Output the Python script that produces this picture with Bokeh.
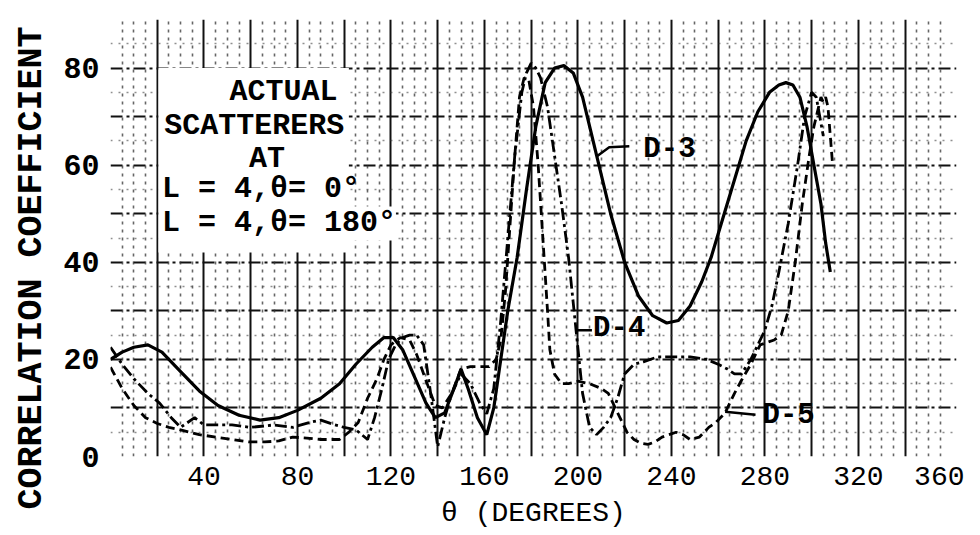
from bokeh.plotting import figure
from bokeh.models import (Range1d, FixedTicker, Grid, BoxAnnotation, Label, Title)
from bokeh.embed import file_html
from bokeh.resources import INLINE

# ---------------- data ----------------
x_ticks = [40, 80, 120, 160, 200, 240, 280, 320, 360]
y_ticks = [0, 20, 40, 60, 80]

d3_x = [0, 5, 10, 16, 22, 30, 38, 46, 55, 64, 72, 80, 90, 98, 105, 112, 117, 121,
        125, 130, 135, 139, 143, 147, 150, 153, 157, 161, 164, 167, 170, 174, 178,
        182, 186, 190, 194, 198, 202, 208, 214, 220, 226, 232, 238, 243, 248, 253,
        257, 262, 267, 272, 277, 282, 286, 289, 292, 295, 298, 301, 304, 306, 308]
d3_y = [20, 21.5, 22.5, 23, 21.5, 17.5, 13.5, 10.5, 8.5, 7.5, 8, 9.5, 12, 15, 19,
        22.5, 24.5, 24.5, 22, 16.5, 11, 8, 9, 14, 18, 14, 8, 4.5, 10, 20, 30, 41,
        55, 68, 77, 80, 80.5, 79, 74, 62, 50, 40, 33, 29, 27.5, 28, 31, 36, 41, 49,
        57, 65, 71, 75, 76.5, 77, 76.5, 74, 68, 60, 52, 44, 38]

d4_x = [0, 5, 10, 16, 21, 26, 30, 33, 36, 40, 46, 52, 60, 70, 78, 85, 90, 96, 100,
        105, 110, 113, 116, 119, 122, 125, 128, 131, 134, 137, 140, 143, 146, 150,
        154, 158, 161, 164, 167, 170, 173, 176, 178, 180, 182, 184, 187, 190, 193,
        196, 199, 202, 205, 208, 211, 214, 217, 220, 224, 228, 234, 240, 248, 255,
        260, 264, 267, 270, 274, 277, 280, 283, 286, 290, 294, 297, 300, 302, 305]
d4_y = [22.5, 19, 16, 13, 11, 8, 6, 7, 8, 6.5, 6.5, 6.5, 6, 6.5, 6, 7, 7.5, 6.5, 6,
        5.5, 3.5, 8, 13.7, 20, 23, 24.5, 25, 25, 23, 13, 2, 8, 13, 17, 15, 11, 8.8,
        14, 28, 45, 62, 75, 79, 81, 80, 78, 72, 62, 52, 41, 27, 13, 6, 4.5, 6, 8, 12,
        17, 19, 19.5, 20.5, 20.5, 20.5, 20, 19, 18, 17, 17, 20, 23, 26, 31, 38, 48,
        60, 70, 75, 74, 66]

d5_x = [0, 5, 10, 15, 20, 25, 30, 38, 45, 52, 59, 66, 72, 78, 84, 90, 98, 102, 106,
        110, 114, 117, 120, 124, 128, 131, 134, 137, 139, 142, 146, 150, 154, 158,
        162, 165, 167, 169, 171, 173, 175, 177, 179, 181, 183, 185, 187, 188, 190,
        193, 196, 200, 205, 210, 213, 217, 221, 224, 227, 230, 233, 236, 239, 242,
        245, 248, 252, 256, 259, 263, 267, 270, 274, 278, 281, 284, 287, 290, 293,
        296, 299, 301, 303, 304, 305, 306, 307, 308, 309]
d5_y = [18.4, 14, 10.5, 8, 6.8, 6, 5.5, 4.5, 4, 3.5, 3, 3, 3.2, 4, 3.8, 3.5, 3.5, 5,
        7, 12, 16, 20, 23, 24.5, 24, 21, 17, 13, 10.5, 10, 13, 18, 18.5, 18.5, 18.5,
        20, 24, 34, 48, 62, 74, 78, 77.5, 72, 60, 45, 30, 22, 17, 15, 15, 15.5, 15,
        14, 13, 9, 5, 3.5, 2.7, 2.5, 3, 4, 4.5, 5, 4.5, 3.5, 4, 6, 7, 9, 13, 15.7,
        19, 23, 23.5, 24, 25, 30, 40, 52, 62, 68, 72, 74, 73, 74, 72, 66, 60]

MONO = "Liberation Mono"

p = figure(width=964, height=531, output_backend="svg", toolbar_location=None,
           x_range=Range1d(0, 362), y_range=Range1d(0, 90),
           min_border_left=104, min_border_right=8, min_border_top=19,
           min_border_bottom=72)
p.background_fill_color = "white"
p.border_fill_color = "white"
p.outline_line_color = None

# ---------------- graph-paper grid ----------------
p.xgrid.ticker = FixedTicker(ticks=list(range(0, 360, 20)))
p.xgrid.grid_line_color = "#111111"
p.xgrid.grid_line_width = 2
p.ygrid.ticker = FixedTicker(ticks=list(range(0, 91, 10)))
p.ygrid.grid_line_color = "#111111"
p.ygrid.grid_line_width = 2
p.ygrid.grid_line_dash = "12 4 3 4"

minor_x = [v for v in range(0, 360, 5) if v % 20 != 0]
p.add_layout(Grid(dimension=0, ticker=FixedTicker(ticks=minor_x),
                  grid_line_color="#333333", grid_line_width=1.6,
                  grid_line_dash="3 5", grid_line_alpha=0.75))
minor_y = [v for v in range(0, 90, 5) if v % 10 != 0]
p.add_layout(Grid(dimension=1, ticker=FixedTicker(ticks=minor_y),
                  grid_line_color="#444444", grid_line_width=1.3,
                  grid_line_dash="2 6", grid_line_alpha=0.6))

# white box behind the note
p.add_layout(BoxAnnotation(left=20.5, right=102, bottom=42, top=80,
                           fill_color="white", fill_alpha=1, line_color=None,
                           level="underlay"))

# ---------------- curves ----------------
p.line(d3_x, d3_y, line_color="black", line_width=3.2)
p.line(d4_x, d4_y, line_color="black", line_width=2.8, line_dash="12 4 3 4")
p.line(d5_x, d5_y, line_color="black", line_width=2.8, line_dash="9 5")

# leader lines for the curve labels
p.line([208, 213.4, 222], [61.8, 63.7, 63.9], line_color="black", line_width=2.5)
p.line([199.4, 206], [26, 26], line_color="black", line_width=2.5)
p.line([263, 276], [9.2, 8.6], line_color="black", line_width=2.5)

def lab(x, y, t, align="left", size="29px", style="bold", bg=None):
    p.add_layout(Label(x=x, y=y, text=t, text_font=MONO, text_font_size=size,
                       text_font_style=style, text_align=align,
                       text_baseline="middle", text_color="black",
                       background_fill_color=bg))

lab(228, 63.3, "D-3")
lab(206.5, 26.3, "D-4")
lab(279, 8.4, "D-5")

lab(74, 75, "ACTUAL", align="center", size="30px")
lab(61.5, 68, "SCATTERERS", align="center", size="30px")
lab(67, 61.3, "AT", align="center", size="30px")
lab(22, 55, "L = 4,θ= 0°", size="30px")
lab(22, 48, "L = 4,θ= 180°", size="30px", bg="white")

# ---------------- axes ----------------
p.xaxis.ticker = FixedTicker(ticks=x_ticks)
p.yaxis.ticker = FixedTicker(ticks=y_ticks)
for ax in (p.xaxis[0], p.yaxis[0]):
    ax.axis_line_color = None
    ax.major_tick_line_color = None
    ax.minor_tick_line_color = None
    ax.major_label_text_font = MONO
    ax.major_label_text_color = "black"

p.xaxis.major_label_standoff = 4
p.yaxis.major_label_standoff = 5
p.xaxis.major_label_text_font_size = "28px"
p.yaxis.major_label_text_font_size = "30px"
p.yaxis.major_label_text_font_style = "bold"

p.xaxis.axis_label = "θ (DEGREES)"
p.xaxis.axis_label_text_font = MONO
p.xaxis.axis_label_text_font_size = "28px"
p.xaxis.axis_label_text_font_style = "normal"
p.xaxis.axis_label_text_color = "black"
p.xaxis.axis_label_standoff = 10

# vertical title at the far left, shifted downward like the original
p.add_layout(Title(text="CORRELATION COEFFICIENT", align="left", offset=-53,
                   text_font=MONO, text_font_size="35px",
                   text_font_style="bold", text_color="black",
                   standoff=18), "left")

open("out.html", "w").write(file_html(p, INLINE))
